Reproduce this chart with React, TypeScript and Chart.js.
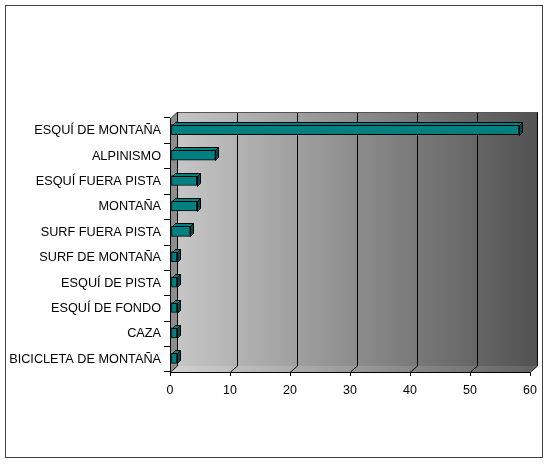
import React, { useEffect, useRef } from "react";
import { Chart, registerables } from "chart.js";

Chart.register(...registerables);

const categories = [
  "ESQUÍ DE MONTAÑA",
  "ALPINISMO",
  "ESQUÍ FUERA PISTA",
  "MONTAÑA",
  "SURF FUERA PISTA",
  "SURF DE MONTAÑA",
  "ESQUÍ DE PISTA",
  "ESQUÍ DE FONDO",
  "CAZA",
  "BICICLETA DE MONTAÑA",
];
const values = [58, 7.4, 4.3, 4.3, 3.2, 1, 1, 1, 1, 1];
const xMin = 0;
const xMax = 60;
const xStep = 10;

const DX = 7;
const DY = 6;
const BD = 3;

const wallPlugin = {
  id: "wall3d",
  beforeDraw(chart: any) {
    const ctx = chart.ctx;
    const { left, right, top, bottom } = chart.chartArea;
    ctx.save();
    ctx.fillStyle = "#ffffff";
    ctx.fillRect(0, 0, chart.width, chart.height);
    // outer border
    ctx.strokeStyle = "#404040";
    ctx.lineWidth = 1;
    ctx.strokeRect(5.5, 5.5, 537, 452);

    // back wall
    const g = ctx.createLinearGradient(left + DX, 0, right + DX, 0);
    g.addColorStop(0, "#c6c6c6");
    g.addColorStop(1, "#525252");
    ctx.fillStyle = g;
    ctx.fillRect(left + DX, top - DY, right - left, bottom - top);

    // left side wall
    ctx.fillStyle = "#8e8e8e";
    ctx.beginPath();
    ctx.moveTo(left, top);
    ctx.lineTo(left + DX, top - DY);
    ctx.lineTo(left + DX, bottom - DY);
    ctx.lineTo(left, bottom);
    ctx.closePath();
    ctx.fill();

    // floor
    const gf = ctx.createLinearGradient(left, 0, right + DX, 0);
    gf.addColorStop(0, "#d2d2d2");
    gf.addColorStop(1, "#626262");
    ctx.fillStyle = gf;
    ctx.beginPath();
    ctx.moveTo(left, bottom);
    ctx.lineTo(left + DX, bottom - DY);
    ctx.lineTo(right + DX, bottom - DY);
    ctx.lineTo(right, bottom);
    ctx.closePath();
    ctx.fill();

    // gridlines
    const xs = chart.scales.x;
    ctx.strokeStyle = "#000000";
    ctx.lineWidth = 1;
    xs.ticks.forEach((t: any) => {
      const px = Math.round(xs.getPixelForValue(t.value)) + 0.5;
      ctx.beginPath();
      ctx.moveTo(px, bottom);
      ctx.lineTo(px + DX, bottom - DY);
      if (t.value !== xMin) {
        ctx.lineTo(px + DX, top - DY);
      }
      ctx.stroke();
    });
    // left wall top edge and back wall edges
    ctx.strokeStyle = "#555555";
    ctx.beginPath();
    ctx.moveTo(left + 0.5, top + 0.5);
    ctx.lineTo(left + DX + 0.5, top - DY + 0.5);
    ctx.lineTo(right + DX + 0.5, top - DY + 0.5);
    ctx.stroke();
    ctx.strokeStyle = "#000000";
    ctx.beginPath();
    ctx.moveTo(left + DX + 0.5, top - DY);
    ctx.lineTo(left + DX + 0.5, bottom - DY);
    ctx.stroke();
    ctx.restore();
  },
  beforeDatasetsDraw(chart: any) {
    chart.ctx.save();
    chart.ctx.translate(1, -1);
  },
  afterDatasetsDraw(chart: any) {
    const ctx = chart.ctx;
    const meta = chart.getDatasetMeta(0);
    meta.data.forEach((bar: any) => {
      const p = bar.getProps(["x", "y", "base", "height"], true);
      const x0 = Math.round(p.base) + 0.5;
      const x1 = Math.round(p.x) + 0.5;
      const y0 = Math.round(p.y - p.height / 2) + 0.5;
      const y1 = Math.round(p.y + p.height / 2) + 0.5;
      ctx.lineWidth = 1;
      ctx.strokeStyle = "#000000";
      // top face
      ctx.fillStyle = "#008080";
      ctx.beginPath();
      ctx.moveTo(x0, y0);
      ctx.lineTo(x0 + BD, y0 - BD);
      ctx.lineTo(x1 + BD, y0 - BD);
      ctx.lineTo(x1, y0);
      ctx.closePath();
      ctx.fill();
      ctx.stroke();
      // side face
      ctx.fillStyle = "#004c4c";
      ctx.beginPath();
      ctx.moveTo(x1, y0);
      ctx.lineTo(x1 + BD, y0 - BD);
      ctx.lineTo(x1 + BD, y1 - BD);
      ctx.lineTo(x1, y1);
      ctx.closePath();
      ctx.fill();
      ctx.stroke();
    });
    ctx.restore();
  },
};

export default function App() {
  const ref = useRef<HTMLCanvasElement | null>(null);
  useEffect(() => {
    if (!ref.current) return;
    Chart.defaults.font.family = '"Liberation Sans", Arial, sans-serif';
    Chart.defaults.font.size = 12;
    Chart.defaults.color = "#000000";
    const chart = new Chart(ref.current, {
      type: "bar",
      data: {
        labels: categories,
        datasets: [
          {
            data: values,
            backgroundColor: "#008080",
            borderColor: "#000000",
            borderWidth: 1,
            borderSkipped: false,
            barThickness: 10,
          },
        ],
      },
      options: {
        indexAxis: "y",
        animation: false,
        responsive: false,
        devicePixelRatio: 1,
        layout: { padding: { top: 118, right: 20, left: 0, bottom: 0 } },
        plugins: {
          legend: { display: false },
          tooltip: { enabled: false },
        },
        scales: {
          x: {
            min: xMin,
            max: xMax,
            ticks: { stepSize: xStep, padding: 7, color: "#000000", font: { size: 12.5 } },
            grid: {
              drawOnChartArea: false,
              drawTicks: true,
              tickLength: 4,
              color: "#000000",
            },
            border: { display: true, color: "#000000" },
            afterFit: (s: any) => {
              s.height = 92;
            },
          },
          y: {
            ticks: { padding: 3, color: "#000000", font: { size: 12.7 } },
            grid: {
              drawOnChartArea: false,
              drawTicks: true,
              tickLength: 6,
              color: "#000000",
            },
            border: { display: true, color: "#000000" },
            afterFit: (s: any) => {
              s.width = 170;
            },
          },
        },
      },
      plugins: [wallPlugin],
    });
    return () => chart.destroy();
  }, []);
  return (
    <div style={{ position: "absolute", left: 0, top: 0, width: 550, height: 464 }}>
      <canvas ref={ref} width={550} height={464} />
    </div>
  );
}
